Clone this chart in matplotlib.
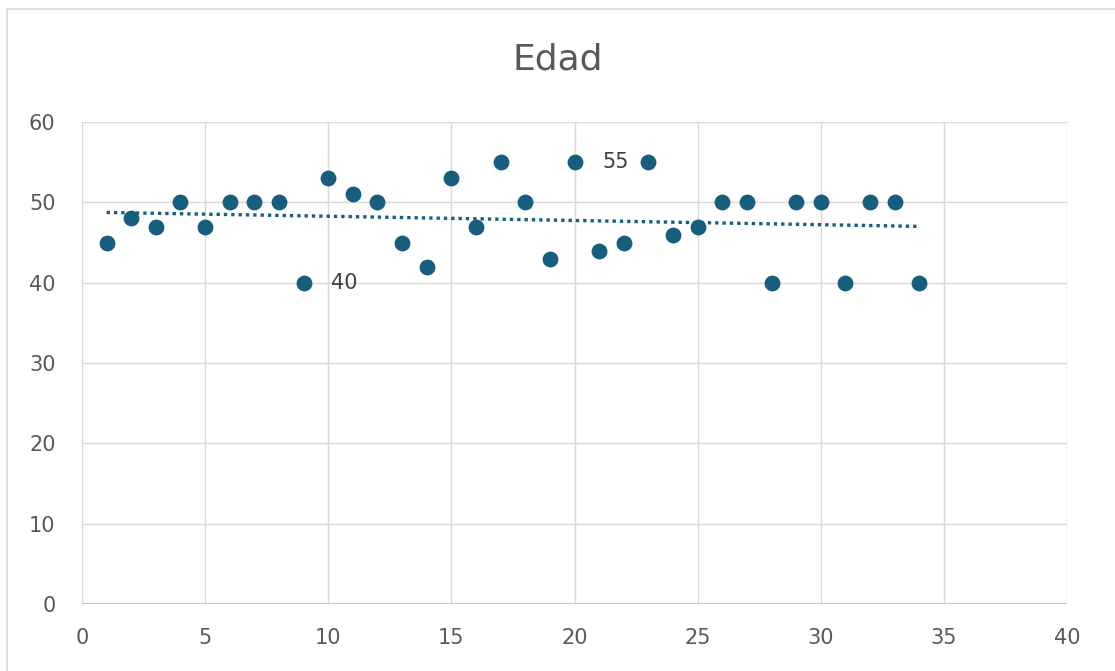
import numpy as np
import matplotlib.pyplot as plt
from matplotlib.patches import Rectangle

# datos de edad por participante
idx = list(range(1, 35))
edad = [45, 48, 47, 50, 47, 50, 50, 50, 40, 53, 51, 50, 45, 42, 53, 47, 55, 50, 43, 55,
        44, 45, 55, 46, 47, 50, 50, 40, 50, 50, 40, 50, 50, 40]
etiquetas = {9: "40", 20: "55"}

color = '#175e7e'
gris = '#595959'

fig = plt.figure(figsize=(11.15, 6.71), dpi=100)
ax = fig.add_axes([0.0735, 0.100, 0.8835, 0.718])

# borde del grafico
fig.patches.append(Rectangle((7/1115, -0.1), 1.2, 1 - 9/671 + 0.1, transform=fig.transFigure,
                             fill=False, edgecolor='#d9d9d9', linewidth=1.2))

ax.scatter(idx, edad, s=130, color=color, zorder=3, linewidths=0)

# linea de tendencia lineal
m, b = np.polyfit(idx, edad, 1)
xt = np.array([idx[0], idx[-1]])
ax.plot(xt, m * xt + b, linestyle=(0, (1, 1.2)), color=color, linewidth=2.4, zorder=2)

for i, txt in etiquetas.items():
    ax.annotate(txt, (i, edad[i - 1]), xytext=(20, 0), textcoords='offset points',
                va='center', ha='left', fontsize=15, color='#404040')

ax.set_xlim(0, 40)
ax.set_ylim(0, 60)
ax.set_xticks(range(0, 41, 5))
ax.set_yticks(range(0, 61, 10))
ax.grid(True, color='#d9d9d9', linewidth=1)
ax.set_axisbelow(True)
for s in ax.spines.values():
    s.set_visible(False)
ax.axhline(0, color='#bfbfbf', linewidth=1.2, zorder=1)
ax.tick_params(length=0, labelsize=15, labelcolor=gris)
ax.tick_params(axis='x', pad=17)
ax.tick_params(axis='y', pad=19)

fig.text(0.5, 1 - 60/671, 'Edad', ha='center', va='center', fontsize=26, color=gris)

fig.savefig('out.png', dpi=100)
